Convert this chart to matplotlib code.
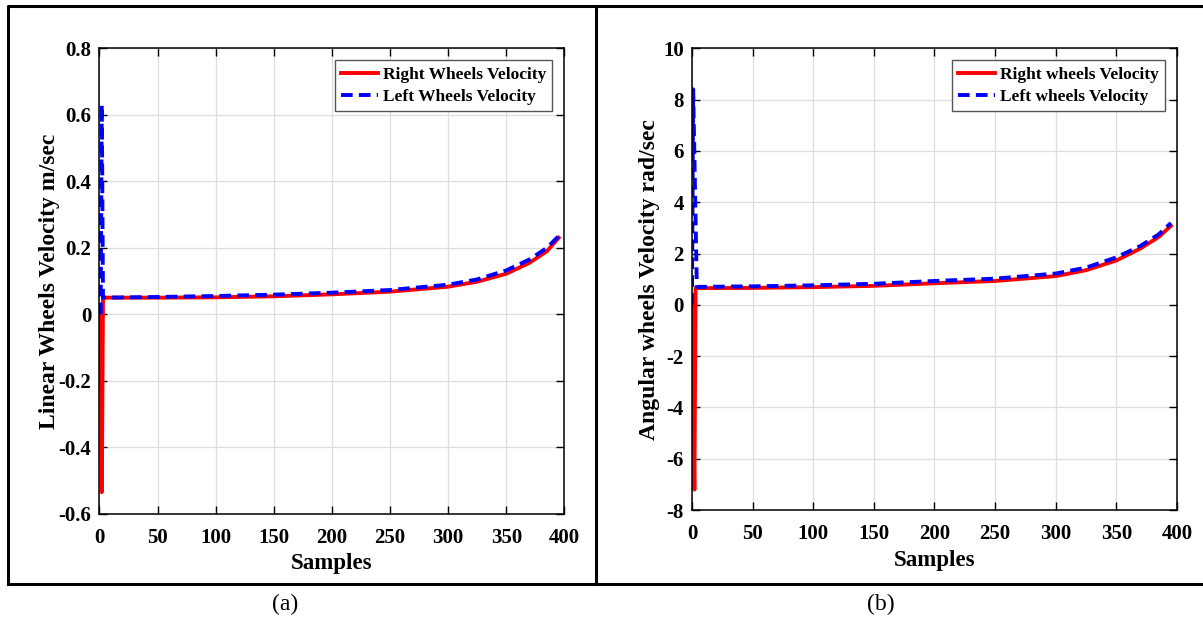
import matplotlib.pyplot as plt
from matplotlib.lines import Line2D

plt.rcParams['font.family'] = ['Liberation Serif', 'DejaVu Serif']
plt.rcParams['font.weight'] = 'bold'
plt.rcParams['axes.unicode_minus'] = False

# (a) linear wheel velocity, m/sec
lin_x_right = [1, 2, 3, 50, 100, 150, 200, 250, 300, 325, 350, 370, 385, 395]
lin_right = [0, -0.535, 0.05, 0.05, 0.051, 0.054, 0.06, 0.068, 0.083, 0.098, 0.122, 0.155, 0.19, 0.23]
lin_x_left = [1, 2, 3, 50, 100, 150, 200, 250, 300, 325, 350, 370, 385, 395]
lin_left = [0, 0.63, 0.05, 0.052, 0.055, 0.059, 0.065, 0.073, 0.089, 0.105, 0.132, 0.165, 0.2, 0.235]

# (b) angular wheel velocity, rad/sec
ang_x_right = [0, 2, 3, 50, 100, 150, 200, 250, 300, 325, 350, 370, 385, 395]
ang_right = [0, -7.2, 0.65, 0.66, 0.69, 0.74, 0.84, 0.93, 1.12, 1.35, 1.73, 2.2, 2.65, 3.08]
ang_x_left = [0, 1, 4, 50, 100, 150, 200, 250, 300, 325, 350, 370, 385, 395]
ang_left = [0, 8.4, 0.7, 0.72, 0.76, 0.82, 0.93, 1.02, 1.22, 1.45, 1.85, 2.3, 2.75, 3.19]

panels = [
    dict(rect=[0.0827, 0.170, 0.3865, 0.752], xr=lin_x_right, yr=lin_right, xl=lin_x_left, yl=lin_left,
         ylim=(-0.6, 0.8), yticks=[-0.6, -0.4, -0.2, 0, 0.2, 0.4, 0.6, 0.8],
         yticklabels=['-0.6', '-0.4', '-0.2', '0', '0.2', '0.4', '0.6', '0.8'],
         ylabel='Linear Wheels Velocity m/sec', ylabelx=-0.084,
         labels=['Right Wheels Velocity', 'Left Wheels Velocity'], caption='(a)', cx=0.237),
    dict(rect=[0.5752, 0.176, 0.4032, 0.746], xr=ang_x_right, yr=ang_right, xl=ang_x_left, yl=ang_left,
         ylim=(-8, 10), yticks=[-8, -6, -4, -2, 0, 2, 4, 6, 8, 10],
         yticklabels=['-8', '-6', '-4', '-2', '0', '2', '4', '6', '8', '10'],
         ylabel='Angular wheels Velocity rad/sec', ylabelx=-0.066,
         labels=['Right wheels Velocity', 'Left wheels Velocity'], caption='(b)', cx=0.732),
]

fig = plt.figure(figsize=(12.03, 6.19), dpi=100)

for p in panels:
    ax = fig.add_axes(p['rect'])
    ax.plot(p['xr'], p['yr'], color='red', lw=2.8, label=p['labels'][0])
    ax.plot(p['xl'], p['yl'], color='blue', lw=2.8, ls=(0, (3, 1.6)), label=p['labels'][1])
    ax.set_xlim(0, 400)
    ax.set_ylim(*p['ylim'])
    ax.set_xticks(range(0, 401, 50))
    ax.set_yticks(p['yticks'])
    ax.set_yticklabels(p['yticklabels'])
    ax.grid(True, color='#dedede', lw=0.9)
    ax.set_axisbelow(True)
    ax.tick_params(direction='in', top=True, right=True, length=6, width=1, labelsize=15)
    ax.tick_params(axis='x', pad=10)
    ax.tick_params(axis='y', pad=6)
    for sp in ax.spines.values():
        sp.set_linewidth(1.1)
    ax.set_xlabel('Samples', fontsize=16.5, fontweight='bold', labelpad=4)
    ax.set_ylabel(p['ylabel'], fontsize=17, fontweight='bold')
    ax.yaxis.set_label_coords(p['ylabelx'], 0.5)
    leg = ax.legend(loc='upper right', fontsize=12.5, fancybox=False, framealpha=1,
                    edgecolor='#555555', handlelength=2.1, borderpad=0.35,
                    labelspacing=0.35, handletextpad=0.3, borderaxespad=0.7)
    leg.get_frame().set_linewidth(1.0)
    fig.text(p['cx'], 0.024, p['caption'], fontsize=17, fontweight='normal',
             ha='center', va='center')

# outer frames
frame_kw = dict(color='black', lw=2.2, transform=fig.transFigure)
fig.add_artist(Line2D([0.0064, 0.0064, 1.0], [0.0565, 0.9905, 0.9905], **frame_kw))
fig.add_artist(Line2D([0.0064, 1.0], [0.0565, 0.0565], **frame_kw))
fig.add_artist(Line2D([0.4958, 0.4958], [0.0565, 0.9905], **frame_kw))

fig.savefig('out.png', dpi=100)
